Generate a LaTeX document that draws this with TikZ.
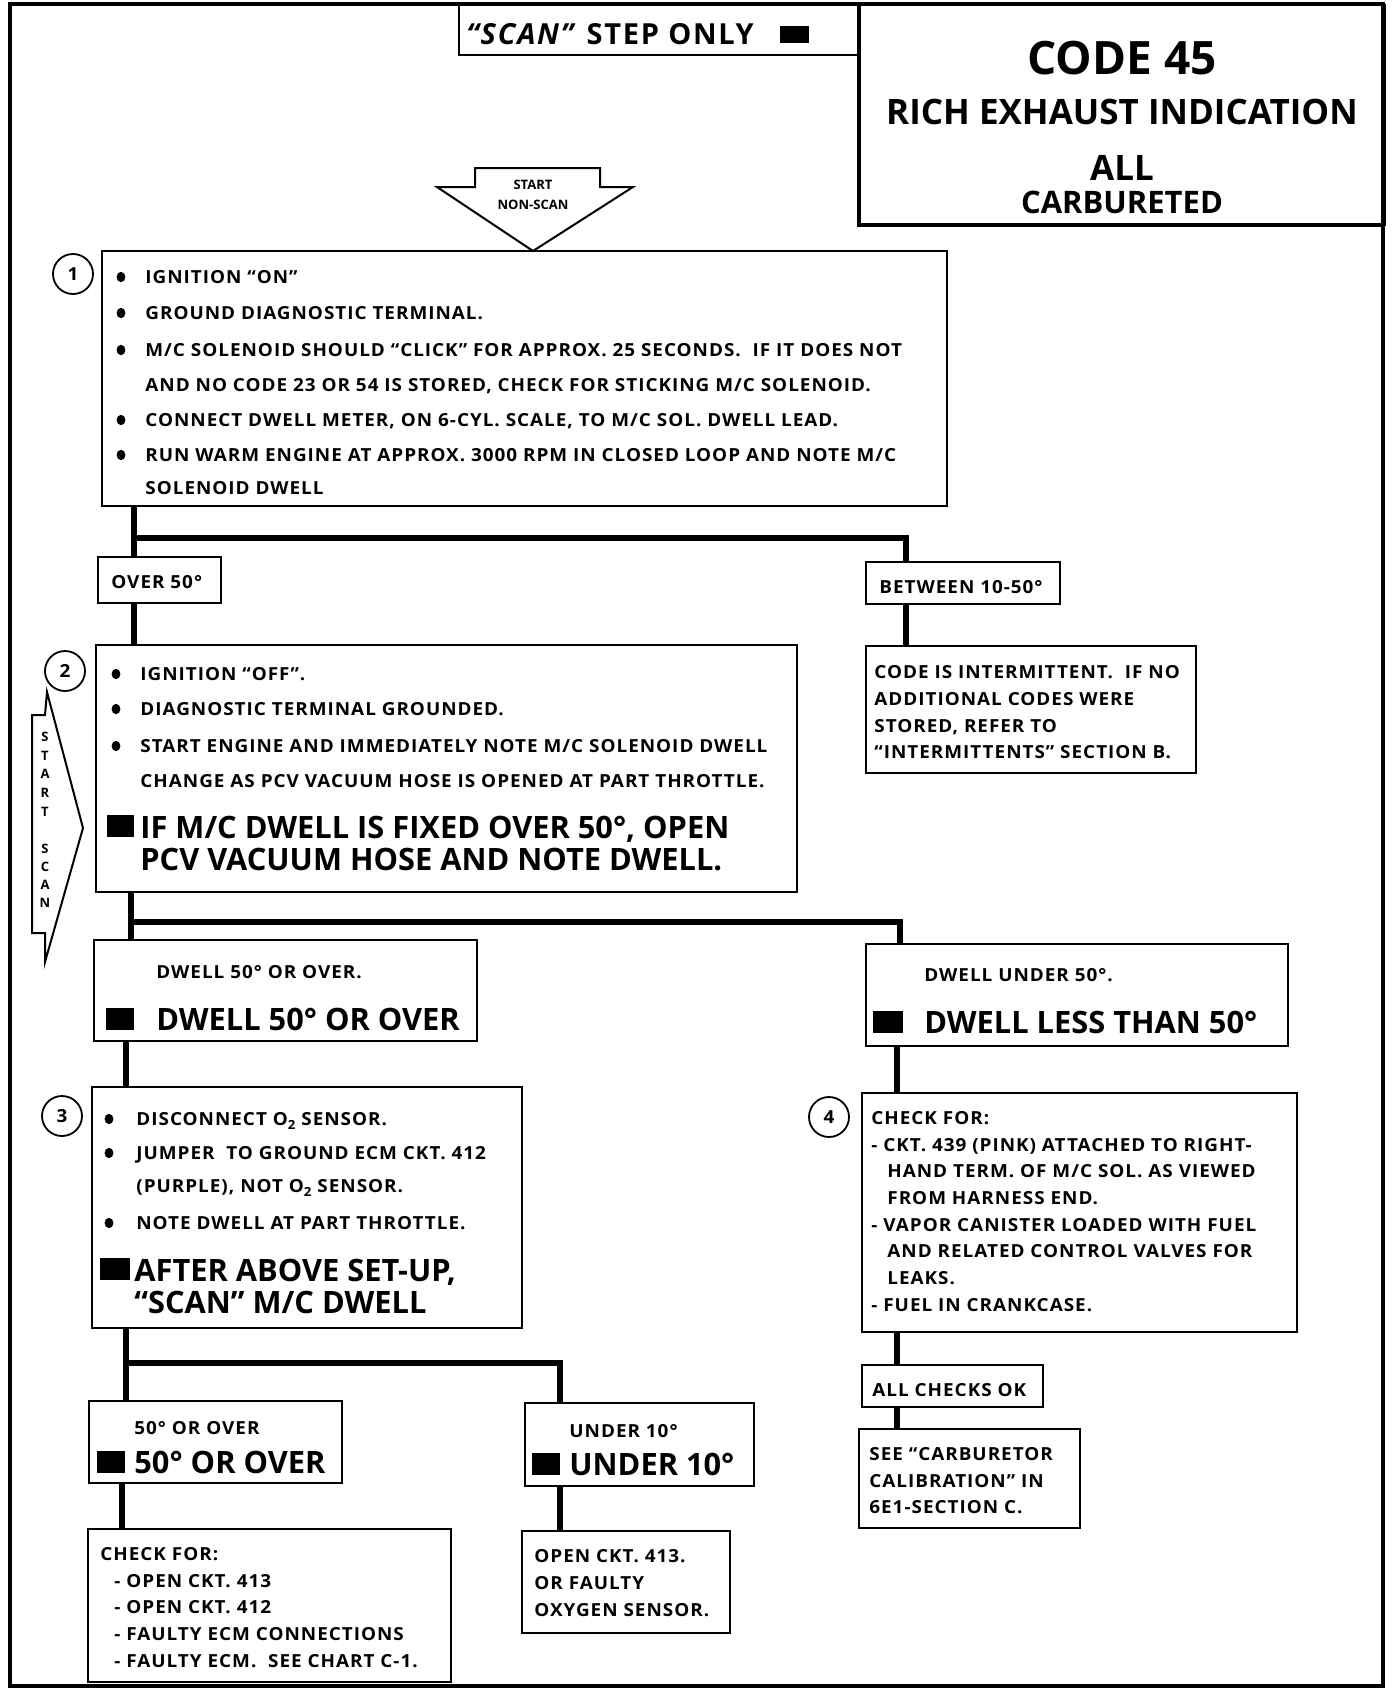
\documentclass[tikz,border=0pt]{standalone}
\usepackage{fontspec}
\setmainfont{Open Sans}
\newfontfamily\bodyfam{Open Sans}[FakeStretch=1.05,LetterSpace=5.5]
\newfontfamily\scanfam{Open Sans}[LetterSpace=6]
\newcommand\bodyf{\bodyfam\bfseries\fontsize{9}{10}\selectfont}
\newcommand\bigf{\bfseries\fontsize{15.4}{18}\selectfont}
\newcommand\tinyf{\bfseries\fontsize{6.5}{7}\selectfont}
\newcommand\vertf{\bfseries\fontsize{6.5}{7}\selectfont}
\newcommand\subtwo{\raisebox{-2pt}{\fontsize{6.3}{6}\selectfont 2}}
\tikzset{
  bx/.style={draw, line width=1pt, inner sep=0pt, outer sep=0pt},
  conn/.style={line width=2.8pt, line join=miter},
  ln/.style={anchor=base west, inner sep=0pt, font=\bodyf},
  bl/.style={anchor=base west, inner sep=0pt, font=\bigf},
  ttl/.style={anchor=center, inner sep=0pt},
  num/.style={draw, circle, line width=0.9pt, minimum size=20pt, inner sep=0pt, font=\bodyf},
  vl/.style={anchor=center, inner sep=0pt, font=\vertf},
}
\newcommand\mkbox[5]{\node[bx, minimum width={(#4-#2)*0.5pt}, minimum height={(#5-#3)*0.5pt}] (#1) at ({(#2+#4)/2},{(#3+#5)/2}) {};}
\newcommand\bul[2]{\fill (#1,#2) ellipse (2.2pt and 2.6pt);}
\newcommand\sq[4]{\fill (#1,#2) rectangle (#3,#4);}
\begin{document}
\begin{tikzpicture}[x=0.5pt,y=-0.5pt]
\useasboundingbox (0,0) rectangle (1392,1694);
% outer frame
\draw[line width=2pt] (10,4) rectangle (1383,1686);
% title boxes
\mkbox{scanbox}{459}{5}{859}{55}
\mkbox{codebox}{859}{5}{1385}{225}
\draw[line width=1.6pt] (codebox.north west) -- (codebox.south west) -- (codebox.south east);
\node[anchor=base west, inner sep=0pt, font=\scanfam\bfseries\fontsize{14.5}{16}\selectfont] (scantxt) at (466,44) {\textit{“SCAN”} STEP ONLY};
\sq{780}{26}{809}{43}
\node[ttl, font=\bfseries\fontsize{23}{26}\selectfont] (code) at (1122,58) {CODE 45};
\node[ttl, font=\bfseries\fontsize{17.5}{20}\selectfont] (rich) at (1122,112) {RICH EXHAUST INDICATION};
\node[ttl, font=\bfseries\fontsize{17.5}{20}\selectfont] (all) at (1122,168) {ALL};
\node[ttl, font=\bfseries\fontsize{15.5}{18}\selectfont] (carb) at (1122,202) {CARBURETED};
% start non-scan arrow
\draw[line width=1pt, line join=miter] (475,168) -- (600,168) -- (600,187) -- (633,187) -- (533,251) -- (437,187) -- (475,187) -- cycle;
\node[ttl, font=\tinyf] (st1) at (533,185) {START};
\node[ttl, font=\tinyf] (st2) at (533,205) {NON-SCAN};
% start scan arrow
\draw[line width=1pt, line join=miter] (47,692) -- (83,828) -- (45,962) -- (45,933) -- (32,933) -- (32,715) -- (45,715) -- cycle;
\node[vl] (v1) at (45,737) {S};
\node[vl] (v2) at (45,756) {T};
\node[vl] (v3) at (45,774) {A};
\node[vl] (v4) at (45,793) {R};
\node[vl] (v5) at (45,812) {T};
\node[vl] (v6) at (45,849) {S};
\node[vl] (v7) at (45,867) {C};
\node[vl] (v8) at (45,885) {A};
\node[vl] (v9) at (45,903) {N};
% boxes
\mkbox{b1}{102}{251}{947}{506}
\mkbox{o50}{98}{557}{221}{603}
\mkbox{btw}{866}{562}{1060}{604}
\mkbox{b2}{96}{645}{797}{892}
\mkbox{ci}{866}{646}{1196}{773}
\mkbox{d50}{94}{940}{477}{1041}
\mkbox{du50}{866}{944}{1288}{1046}
\mkbox{b3}{92}{1087}{522}{1328}
\mkbox{b4}{862}{1093}{1297}{1332}
\mkbox{o50b}{89}{1401}{342}{1483}
\mkbox{u10}{525}{1403}{754}{1486}
\mkbox{ck1}{88}{1529}{451}{1682}
\mkbox{ck2}{522}{1531}{730}{1633}
\mkbox{ok}{862}{1365}{1043}{1407}
\mkbox{see}{859}{1429}{1080}{1528}
% number circles
\node[num] (c1) at (73,274) {1};
\node[num] (c2) at (65,671) {2};
\node[num] (c3) at (62,1116) {3};
\node[num] (c4) at (829,1117) {4};
% connectors
\coordinate (j1) at (134,538);
\coordinate (j1r) at (906,538);
\coordinate (j2) at (131,922);
\coordinate (j2r) at (900,922);
\coordinate (j3) at (126,1363);
\coordinate (j3r) at (560,1363);
\coordinate (xf) at (897,0);
\coordinate (xh) at (122,0);
\draw[conn] (b1.south -| j1) -- (o50.north -| j1);
\draw[conn] (j1) -- (j1r) -- (btw.north -| j1r);
\draw[conn] (o50.south -| j1) -- (b2.north -| j1);
\draw[conn] (btw.south -| j1r) -- (ci.north -| j1r);
\draw[conn] (b2.south -| j2) -- (d50.north -| j2);
\draw[conn] (j2) -- (j2r) -- (du50.north -| j2r);
\draw[conn] (d50.south -| j3) -- (b3.north -| j3);
\draw[conn] (du50.south -| xf) -- (b4.north -| xf);
\draw[conn] (b3.south -| j3) -- (o50b.north -| j3);
\draw[conn] (j3) -- (j3r) -- (u10.north -| j3r);
\draw[conn] (o50b.south -| xh) -- (ck1.north -| xh);
\draw[conn] (u10.south -| j3r) -- (ck2.north -| j3r);
\draw[conn] (b4.south -| xf) -- (ok.north -| xf);
\draw[conn] (ok.south -| xf) -- (see.north -| xf);
% box 1 text
\bul{121}{277}\bul{121}{313}\bul{121}{350}\bul{121}{420}\bul{121}{455}
\node[ln] (t1a) at (145,283) {IGNITION “ON”};
\node[ln] (t1b) at (145,319) {GROUND DIAGNOSTIC TERMINAL.};
\node[ln] (t1c) at (145,356) {M/C SOLENOID SHOULD “CLICK” FOR APPROX. 25 SECONDS.~ IF IT DOES NOT};
\node[ln] (t1d) at (145,391) {AND NO CODE 23 OR 54 IS STORED, CHECK FOR STICKING M/C SOLENOID.};
\node[ln] (t1e) at (145,426) {CONNECT DWELL METER, ON 6-CYL. SCALE, TO M/C SOL. DWELL LEAD.};
\node[ln] (t1f) at (145,461) {RUN WARM ENGINE AT APPROX. 3000 RPM IN CLOSED LOOP AND NOTE M/C};
\node[ln] (t1g) at (145,494) {SOLENOID DWELL};
% branch labels
\node[ln] (to50) at (111,588) {OVER 50°};
\node[ln] (tbtw) at (879,593) {BETWEEN 10-50°};
% box 2 text
\bul{116}{674}\bul{116}{709}\bul{116}{746}
\node[ln] (t2a) at (140,680) {IGNITION “OFF”.};
\node[ln] (t2b) at (140,715) {DIAGNOSTIC TERMINAL GROUNDED.};
\node[ln] (t2c) at (140,752) {START ENGINE AND IMMEDIATELY NOTE M/C SOLENOID DWELL};
\node[ln] (t2d) at (140,787) {CHANGE AS PCV VACUUM HOSE IS OPENED AT PART THROTTLE.};
\sq{107}{815}{134}{837}
\node[bl] (t2e) at (140,838) {IF M/C DWELL IS FIXED OVER 50°, OPEN};
\node[bl] (t2f) at (140,870) {PCV VACUUM HOSE AND NOTE DWELL.};
% intermittent
\node[ln] (tci1) at (874,678) {CODE IS INTERMITTENT.~ IF NO};
\node[ln] (tci2) at (874,705) {ADDITIONAL CODES WERE};
\node[ln] (tci3) at (874,732) {STORED, REFER TO};
\node[ln] (tci4) at (874,758) {“INTERMITTENTS” SECTION B.};
% dwell boxes
\node[ln] (td1) at (156,978) {DWELL 50° OR OVER.};
\sq{106}{1008}{134}{1030}
\node[bl] (td2) at (156,1030) {DWELL 50° OR OVER};
\node[ln] (tu1) at (924,981) {DWELL UNDER 50°.};
\sq{873}{1011}{903}{1033}
\node[bl] (tu2) at (924,1033) {DWELL LESS THAN 50°};
% box 3
\bul{109}{1119}\bul{109}{1153}\bul{109}{1223}
\node[ln] (t3a) at (136,1125) {DISCONNECT O\subtwo{} SENSOR.};
\node[ln] (t3b) at (136,1159) {JUMPER~ TO GROUND ECM CKT. 412};
\node[ln] (t3c) at (136,1192) {(PURPLE), NOT O\subtwo{} SENSOR.};
\node[ln] (t3d) at (136,1229) {NOTE DWELL AT PART THROTTLE.};
\sq{100}{1258}{130}{1280}
\node[bl] (t3e) at (134,1281) {AFTER ABOVE SET-UP,};
\node[bl] (t3f) at (134,1313) {“SCAN” M/C DWELL};
% box 4
\node[ln] (t4a) at (871,1124) {CHECK FOR:};
\node[ln] (t4b) at (871,1151) {- CKT. 439 (PINK) ATTACHED TO RIGHT-};
\node[ln] (t4c) at (887,1177) {HAND TERM. OF M/C SOL. AS VIEWED};
\node[ln] (t4d) at (887,1204) {FROM HARNESS END.};
\node[ln] (t4e) at (871,1231) {- VAPOR CANISTER LOADED WITH FUEL};
\node[ln] (t4f) at (887,1257) {AND RELATED CONTROL VALVES FOR};
\node[ln] (t4g) at (887,1284) {LEAKS.};
\node[ln] (t4h) at (871,1311) {- FUEL IN CRANKCASE.};
% bottom branch labels
\node[ln] (tb1) at (134,1434) {50° OR OVER};
\sq{97}{1451}{125}{1473}
\node[bl] (tb2) at (134,1473) {50° OR OVER};
\node[ln] (tc1) at (569,1437) {UNDER 10°};
\sq{532}{1453}{560}{1475}
\node[bl] (tc2) at (569,1475) {UNDER 10°};
% check boxes
\node[ln] (tk1) at (100,1560) {CHECK FOR:};
\node[ln] (tk2) at (114,1587) {- OPEN CKT. 413};
\node[ln] (tk3) at (114,1613) {- OPEN CKT. 412};
\node[ln] (tk4) at (114,1640) {- FAULTY ECM CONNECTIONS};
\node[ln] (tk5) at (114,1667) {- FAULTY ECM.~ SEE CHART C-1.};
\node[ln] (tm1) at (534,1562) {OPEN CKT. 413.};
\node[ln] (tm2) at (534,1589) {OR FAULTY};
\node[ln] (tm3) at (534,1616) {OXYGEN SENSOR.};
\node[ln] (tok) at (872,1396) {ALL CHECKS OK};
\node[ln] (ts1) at (869,1460) {SEE “CARBURETOR};
\node[ln] (ts2) at (869,1487) {CALIBRATION” IN};
\node[ln] (ts3) at (869,1513) {6E1-SECTION C.};
\end{tikzpicture}
\end{document}
